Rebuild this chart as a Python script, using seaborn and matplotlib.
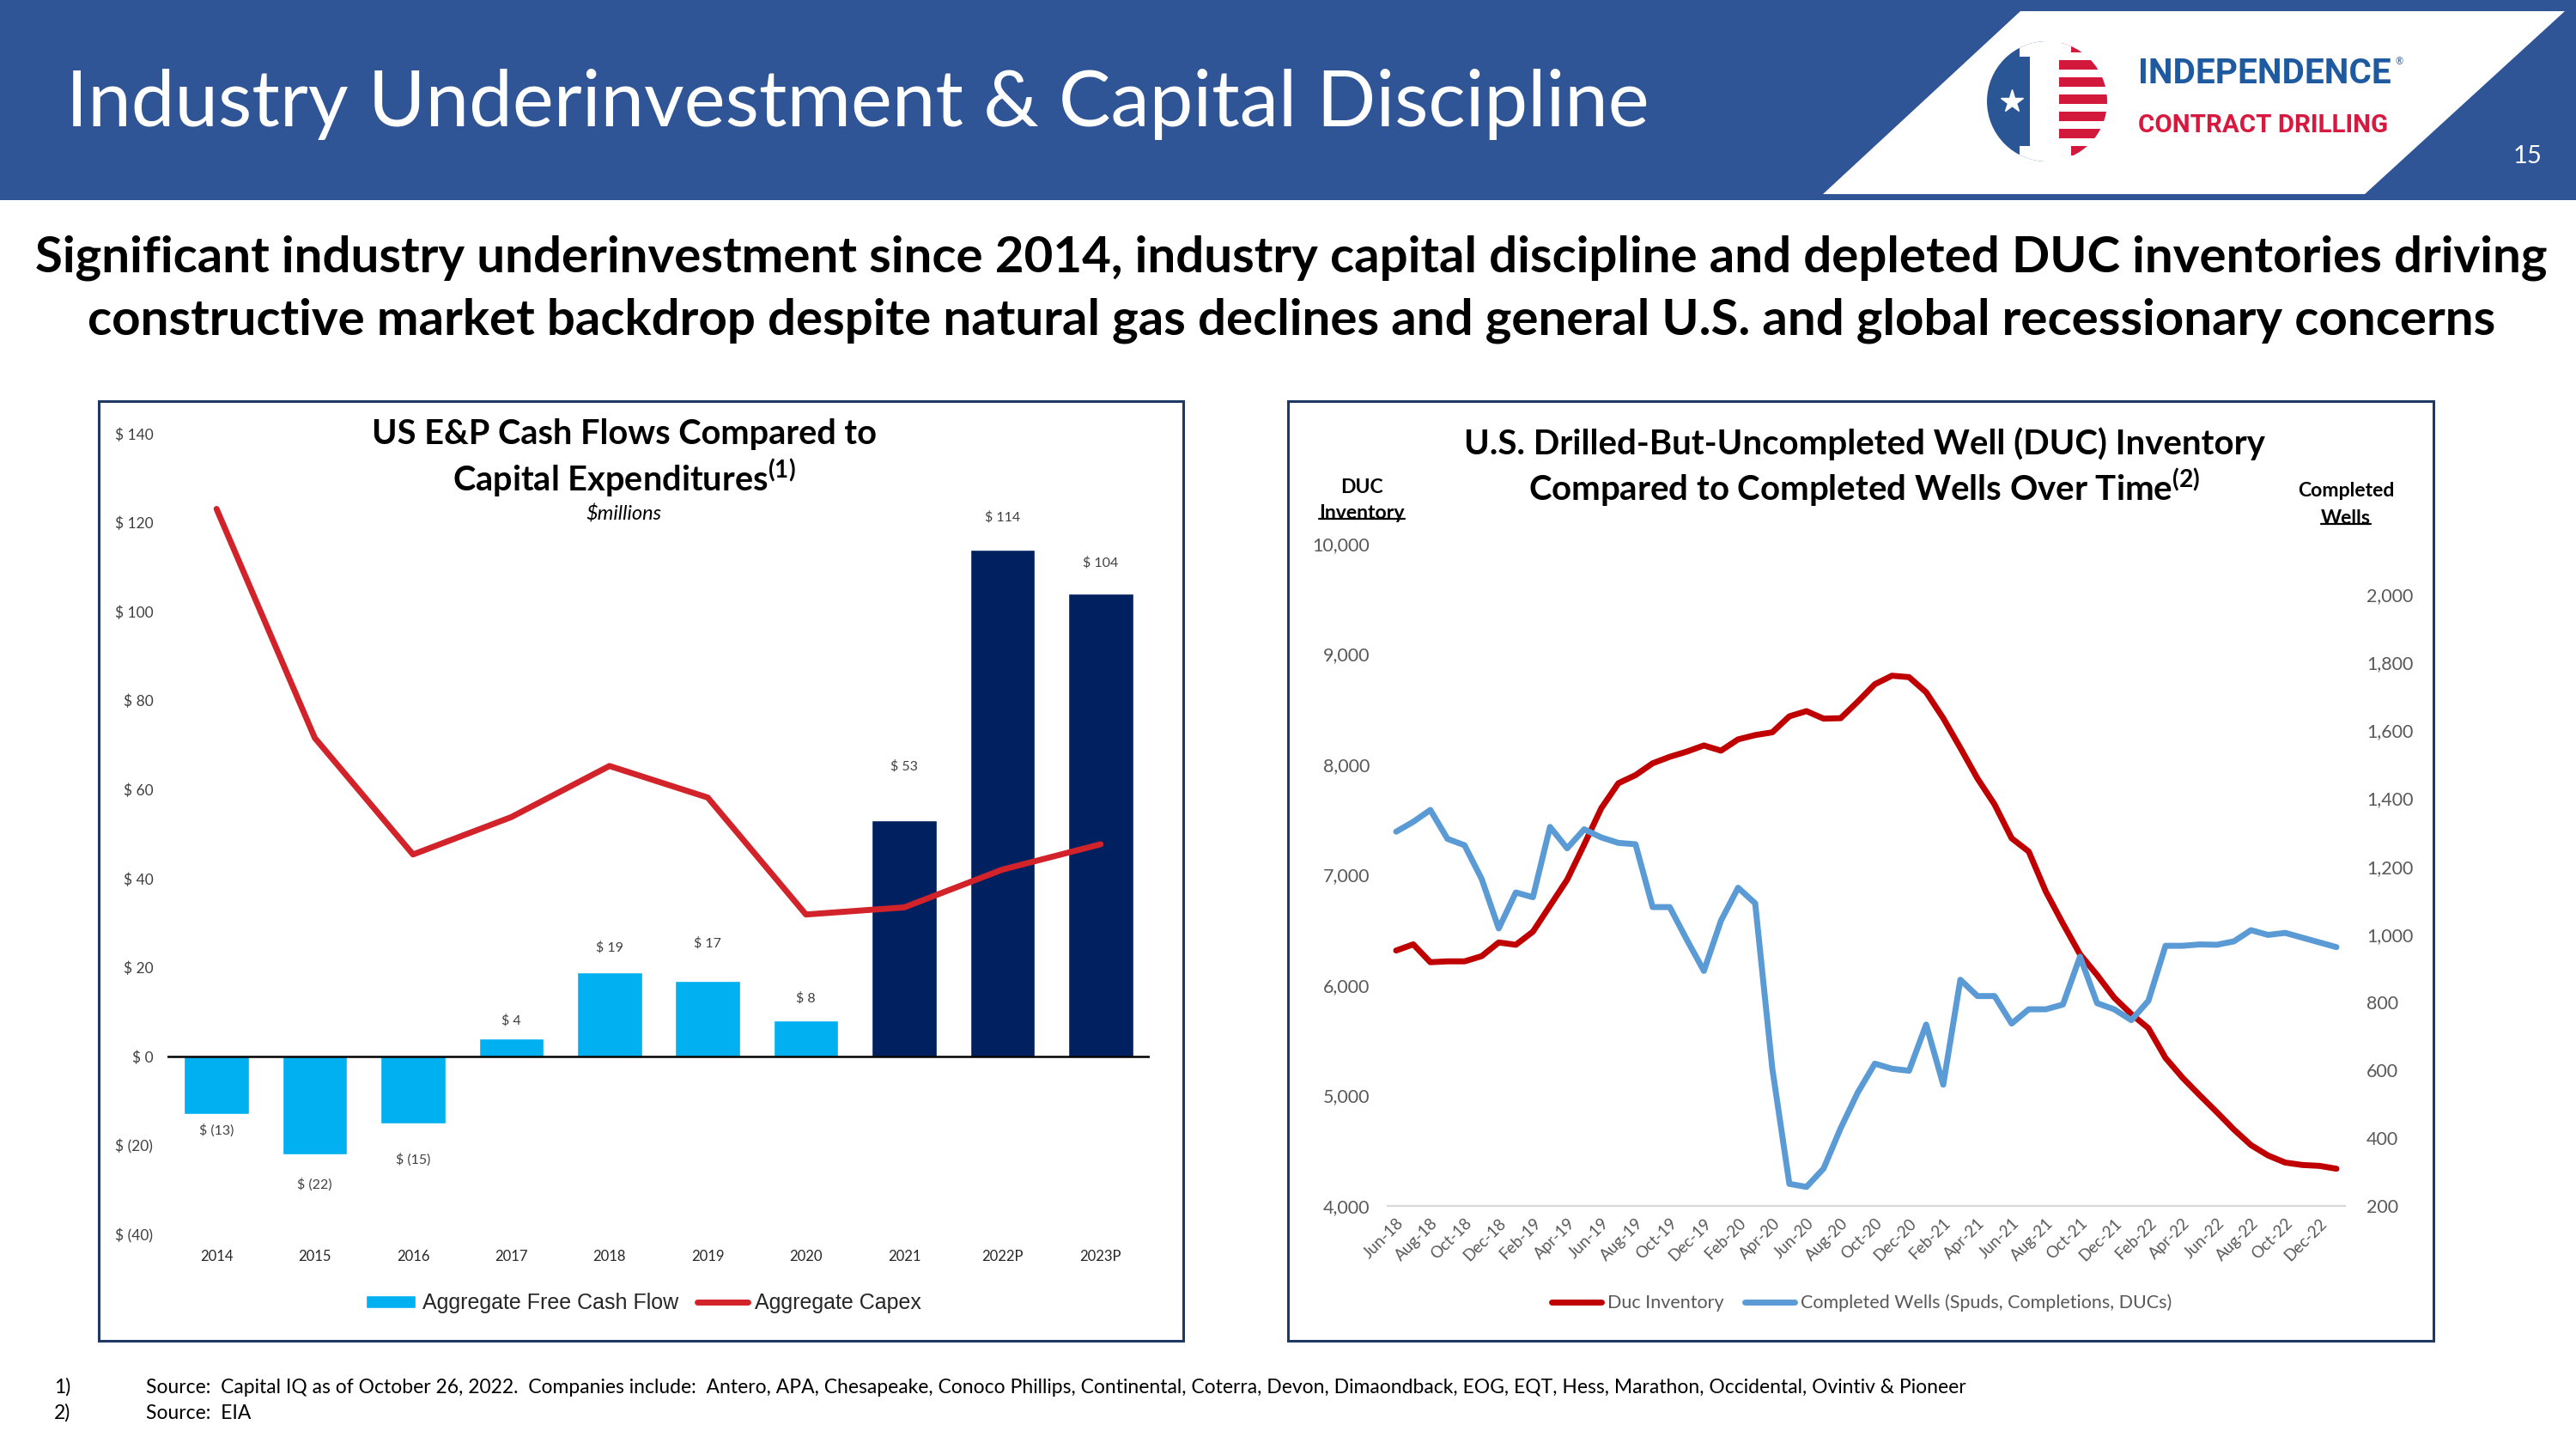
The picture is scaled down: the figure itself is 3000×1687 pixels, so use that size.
import numpy as np
import pandas as pd
import seaborn as sns
import matplotlib.pyplot as plt
from matplotlib.patches import Rectangle, Polygon, Circle, Patch
from matplotlib.lines import Line2D

W, H = 3000, 1687

# left chart: US E&P cash flows vs capex
years = ['2014', '2015', '2016', '2017', '2018', '2019', '2020', '2021', '2022P', '2023P']
free_cash_flow = [-13, -22, -15, 4, 19, 17, 8, 53, 114, 104]
capex = [123.1, 71.6, 45.4, 53.8, 65.3, 58.2, 31.9, 33.5, 42.0, 47.7]
fcf_ticks = [-40, -20, 0, 20, 40, 60, 80, 100, 120, 140]

# right chart: DUC inventory vs completed wells, Jun-18 .. Jan-23 monthly
months = pd.date_range('2018-06-01', '2023-01-01', freq='MS')
duc_inventory = [6314, 6370, 6208, 6216, 6216, 6263, 6387, 6366, 6485, 6720,
                 6955, 7275, 7604, 7830, 7903, 8010, 8069, 8116, 8172, 8125,
                 8227, 8266, 8291, 8436, 8483, 8415, 8419, 8569, 8727, 8804,
                 8791, 8654, 8419, 8150, 7873, 7638, 7331, 7211, 6848, 6558,
                 6280, 6092, 5887, 5738, 5610, 5341, 5161, 5003, 4850, 4692,
                 4551, 4457, 4393, 4371, 4363, 4337]
completed_wells = [1302, 1331, 1366, 1281, 1262, 1163, 1017, 1123, 1109, 1316,
                   1253, 1309, 1285, 1269, 1265, 1080, 1080, 984, 892, 1040,
                   1137, 1091, 605, 265, 256, 310, 429, 534, 619, 604,
                   598, 734, 557, 866, 818, 818, 737, 779, 779, 793,
                   934, 797, 779, 747, 804, 966, 966, 970, 969, 979,
                   1012, 998, 1004, 990, 976, 962]
month_labels = ['Jun-18', 'Aug-18', 'Oct-18', 'Dec-18', 'Feb-19', 'Apr-19', 'Jun-19',
                'Aug-19', 'Oct-19', 'Dec-19', 'Feb-20', 'Apr-20', 'Jun-20', 'Aug-20',
                'Oct-20', 'Dec-20', 'Feb-21', 'Apr-21', 'Jun-21', 'Aug-21', 'Oct-21',
                'Dec-21', 'Feb-22', 'Apr-22', 'Jun-22', 'Aug-22', 'Oct-22', 'Dec-22']
duc_ticks = [4000, 5000, 6000, 7000, 8000, 9000, 10000]
well_ticks = [200, 400, 600, 800, 1000, 1200, 1400, 1600, 1800, 2000]

subtitle_1 = ('Significant industry underinvestment since 2014, industry capital discipline '
              'and depleted DUC inventories driving')
subtitle_2 = ('constructive market backdrop despite natural gas declines and general U.S. '
              'and global recessionary concerns')
note_1 = ('Source:  Capital IQ as of October 26, 2022.  Companies include:  Antero, APA, '
          'Chesapeake, Conoco Phillips, Continental, Coterra, Devon, Dimaondback, EOG, EQT, '
          'Hess, Marathon, Occidental, Ovintiv & Pioneer')
note_2 = 'Source:  EIA'

sns.set_theme(style='white')
plt.rcParams['font.family'] = ['Lato', 'DejaVu Sans']
plt.rcParams['mathtext.fontset'] = 'custom'
plt.rcParams['mathtext.rm'] = 'Lato'
plt.rcParams['mathtext.bf'] = 'Lato:bold'

NAVY_LINE = '#1F3864'
GRAY = '#595959'

fig = plt.figure(figsize=(W / 100, H / 100), dpi=100)
fig.patch.set_facecolor('white')
renderer = fig.canvas.get_renderer()


def box(x0, y0, x1, y1):
    # pixel box (top-left origin) -> figure fraction rect
    return [x0 / W, 1 - y1 / H, (x1 - x0) / W, (y1 - y0) / H]


def fit(t, width):
    w = t.get_window_extent(renderer=renderer).width
    t.set_fontsize(t.get_fontsize() * width / w)
    return t.get_fontsize()


def underline(t, lw=1.6):
    bb = t.get_window_extent(renderer=renderer).transformed(bg.transData.inverted())
    y = max(bb.y0, bb.y1) - 0.17 * abs(bb.y1 - bb.y0)
    bg.plot([bb.x0, bb.x1], [y, y], color='black', lw=lw)


# page-level canvas in pixel coords
bg = fig.add_axes([0, 0, 1, 1])
bg.set_xlim(0, W)
bg.set_ylim(H, 0)
bg.axis('off')

# header band
bg.add_patch(Rectangle((0, 0), W, 233, color='#2F5597', lw=0))
bg.add_patch(Polygon([(2123, 226), (2353, 13), (2987, 13), (2754, 226)], color='white', lw=0))
title = bg.text(77, 121, 'Industry Underinvestment & Capital Discipline', color='white',
                fontsize=60, ha='left', va='center')
fit(title, 1846)
bg.text(2944, 182, '15', color='white', fontsize=21, ha='center', va='center')

# logo
cx, cy, r = 2384, 118, 70
clip = Circle((cx, cy), r, facecolor='none', edgecolor='none')
bg.add_patch(clip)
logo_parts = [Rectangle((cx - r, cy - r), r, 2 * r, color='#2A5696', lw=0),
              Rectangle((cx, cy - r), r, 2 * r, color='white', lw=0)]
for k in range(7):
    logo_parts.append(Rectangle((cx, cy - r + 2 + k * 20), r, 11, color='#D2193C', lw=0))
logo_parts.append(Polygon([(2352, 48), (2412, 48), (2412, 66), (2398, 66), (2398, 170),
                           (2412, 170), (2412, 188), (2352, 188), (2352, 170), (2364, 170),
                           (2364, 66), (2352, 66)], color='white', lw=0))
for p in logo_parts:
    bg.add_patch(p)
    p.set_clip_path(clip)
bg.plot(2343, 118, marker='*', ms=20, color='white', mec='white')
logo_font = ['Liberation Sans Narrow', 'Roboto', 'DejaVu Sans']
t = bg.text(2490, 86, 'INDEPENDENCE', color='#1E5AA0', fontweight='bold', fontsize=30,
            family=logo_font, ha='left', va='center')
fit(t, 293)
bg.text(2790, 72, '®', color='#1E5AA0', fontsize=8, ha='left', va='center')
t = bg.text(2490, 146, 'CONTRACT DRILLING', color='#D7193F', fontweight='bold', fontsize=30,
            family=logo_font, ha='left', va='center')
fit(t, 290)

# subtitle
s1 = bg.text(1504, 300, subtitle_1, fontweight='bold', color='black', fontsize=30,
             ha='center', va='center')
size = fit(s1, 2925)
bg.text(1504, 373, subtitle_2, fontweight='bold', color='black', fontsize=size,
        ha='center', va='center')

# panel borders
bg.add_patch(Rectangle((115, 467), 1263, 1094, fill=False, edgecolor=NAVY_LINE, lw=2.2))
bg.add_patch(Rectangle((1500, 467), 1334, 1094, fill=False, edgecolor=NAVY_LINE, lw=2.2))

# ---------------- left chart ----------------
ax1 = fig.add_axes(box(195, 505, 1339, 1437))
ax1.patch.set_visible(False)
df_fcf = pd.DataFrame({'year': years, 'fcf': free_cash_flow})
bar_colors = ['#00B0F0'] * 7 + ['#002060'] * 3
sns.barplot(data=df_fcf, x='year', y='fcf', hue='year', palette=dict(zip(years, bar_colors)),
            legend=False, width=0.66, saturation=1, ax=ax1)
sns.lineplot(x=np.arange(len(years)), y=capex, color='#D2232A', lw=5, ax=ax1)
ax1.axhline(0, color='black', lw=1.8, zorder=1)
ax1.set_xlim(-0.5, len(years) - 0.5)
ax1.set_ylim(-40, 140)
for s in ax1.spines.values():
    s.set_visible(False)
ax1.set_yticks(fcf_ticks)
ax1.set_yticklabels([f'$ {v}' if v >= 0 else f'$ ({-v})' for v in fcf_ticks])
ax1.set_xticks(range(len(years)))
ax1.set_xticklabels(years)
ax1.tick_params(axis='y', length=0, pad=12, labelsize=12.5, labelcolor='#404040')
ax1.tick_params(axis='x', length=0, pad=13, labelsize=12, labelcolor='#262626')
ax1.set_xlabel('')
ax1.set_ylabel('')

label_gap = [19, 35, 43, 21, 28, 44, 26, 63, 37, 36]  # px from bar end to label centre
for i, v in enumerate(free_cash_flow):
    txt = f'$ {v}' if v >= 0 else f'$ ({-v})'
    off = label_gap[i] / 1.389 * (1 if v >= 0 else -1)
    ax1.annotate(txt, (i, v), xytext=(0, off), textcoords='offset points', ha='center',
                 va='center', fontsize=11.5, color='#404040')

t = bg.text(727, 505, 'US E&P Cash Flows Compared to', fontweight='bold', fontsize=20,
            ha='center', va='center', color='black')
size = fit(t, 588)
bg.text(727, 557, r'Capital Expenditures$^{\mathbf{(1)}}$', fontweight='bold', fontsize=size,
        ha='center', va='center', color='black')
t = bg.text(727, 599, '$millions', fontstyle='italic', fontsize=12, ha='center', va='center',
            color='black')
fit(t, 88)

fig.legend(handles=[Patch(facecolor='#00B0F0', label='Aggregate Free Cash Flow'),
                    Line2D([], [], color='#D2232A', lw=5, label='Aggregate Capex')],
           loc='center', bbox_to_anchor=(749 / W, 1 - 1517 / H), ncol=2, frameon=False,
           prop={'family': 'Liberation Sans', 'size': 18}, handlelength=2.35,
           handleheight=0.55, handletextpad=0.3, columnspacing=0.9)

# ---------------- right chart ----------------
ax2 = fig.add_axes(box(1616, 633, 2731, 1404))
ax2.patch.set_visible(False)
x = np.arange(len(months))
sns.lineplot(x=x, y=duc_inventory, color='#C00000', lw=5, ax=ax2)
ax3 = ax2.twinx()
sns.lineplot(x=x, y=completed_wells, color='#5B9BD5', lw=5, ax=ax3)
ax2.set_xlim(-0.5, len(months) - 0.5)
ax2.set_ylim(4000, 10000)
ax3.set_ylim(200, 2150)
ax2.set_yticks(duc_ticks)
ax2.set_yticklabels([f'{v:,}' for v in duc_ticks])
ax3.set_yticks(well_ticks)
ax3.set_yticklabels([f'{v:,}' for v in well_ticks])
ax2.set_xticks(x[::2])
ax2.set_xticklabels(month_labels, rotation=45, ha='right', rotation_mode='anchor')
for a in (ax2, ax3):
    for s in a.spines.values():
        s.set_visible(False)
    a.set_xlabel('')
    a.set_ylabel('')
ax2.spines['bottom'].set_visible(True)
ax2.spines['bottom'].set_color('#D9D9D9')
ax2.spines['bottom'].set_linewidth(1.6)
ax2.tick_params(axis='y', length=0, pad=15, labelsize=15.5, labelcolor=GRAY)
ax3.tick_params(axis='y', length=0, pad=18, labelsize=15.5, labelcolor=GRAY)
ax2.tick_params(axis='x', length=0, pad=8, labelsize=13.5, labelcolor=GRAY)

t = bg.text(2171, 517, 'U.S. Drilled-But-Uncompleted Well (DUC) Inventory', fontweight='bold',
            fontsize=20, ha='center', va='center', color='black')
size = fit(t, 933)
bg.text(2171, 568, r'Compared to Completed Wells Over Time$^{\mathbf{(2)}}$', fontweight='bold',
        fontsize=size, ha='center', va='center', color='black')

t = bg.text(2732, 572, 'Completed', fontweight='bold', fontsize=14, ha='center', va='center',
            color='black')
size = fit(t, 113)
t = bg.text(2732, 603, 'Wells', fontweight='bold', fontsize=size, ha='center', va='center',
            color='black')
underline(t)
bg.text(1586, 568, 'DUC', fontweight='bold', fontsize=size, ha='center', va='center', color='black')
t = bg.text(1586, 597, 'Inventory', fontweight='bold', fontsize=size, ha='center', va='center',
            color='black')
underline(t)

fig.legend(handles=[Line2D([], [], color='#C00000', lw=5, label='Duc Inventory'),
                    Line2D([], [], color='#5B9BD5', lw=5,
                           label='Completed Wells (Spuds, Completions, DUCs)')],
           loc='center', bbox_to_anchor=(2168 / W, 1 - 1517 / H), ncol=2, frameon=False,
           prop={'size': 15.5}, labelcolor=GRAY, handlelength=2.7, handletextpad=0.35,
           columnspacing=1.1)

# footnotes
t = bg.text(170, 1615, note_1, fontsize=14, ha='left', va='center', color='black')
size = fit(t, 2116)
bg.text(63, 1615, '1)', fontsize=size, ha='left', va='center', color='black')
bg.text(63, 1645, '2)', fontsize=size, ha='left', va='center', color='black')
bg.text(170, 1645, note_2, fontsize=size, ha='left', va='center', color='black')

fig.savefig('out.png', dpi=100, facecolor='white')
